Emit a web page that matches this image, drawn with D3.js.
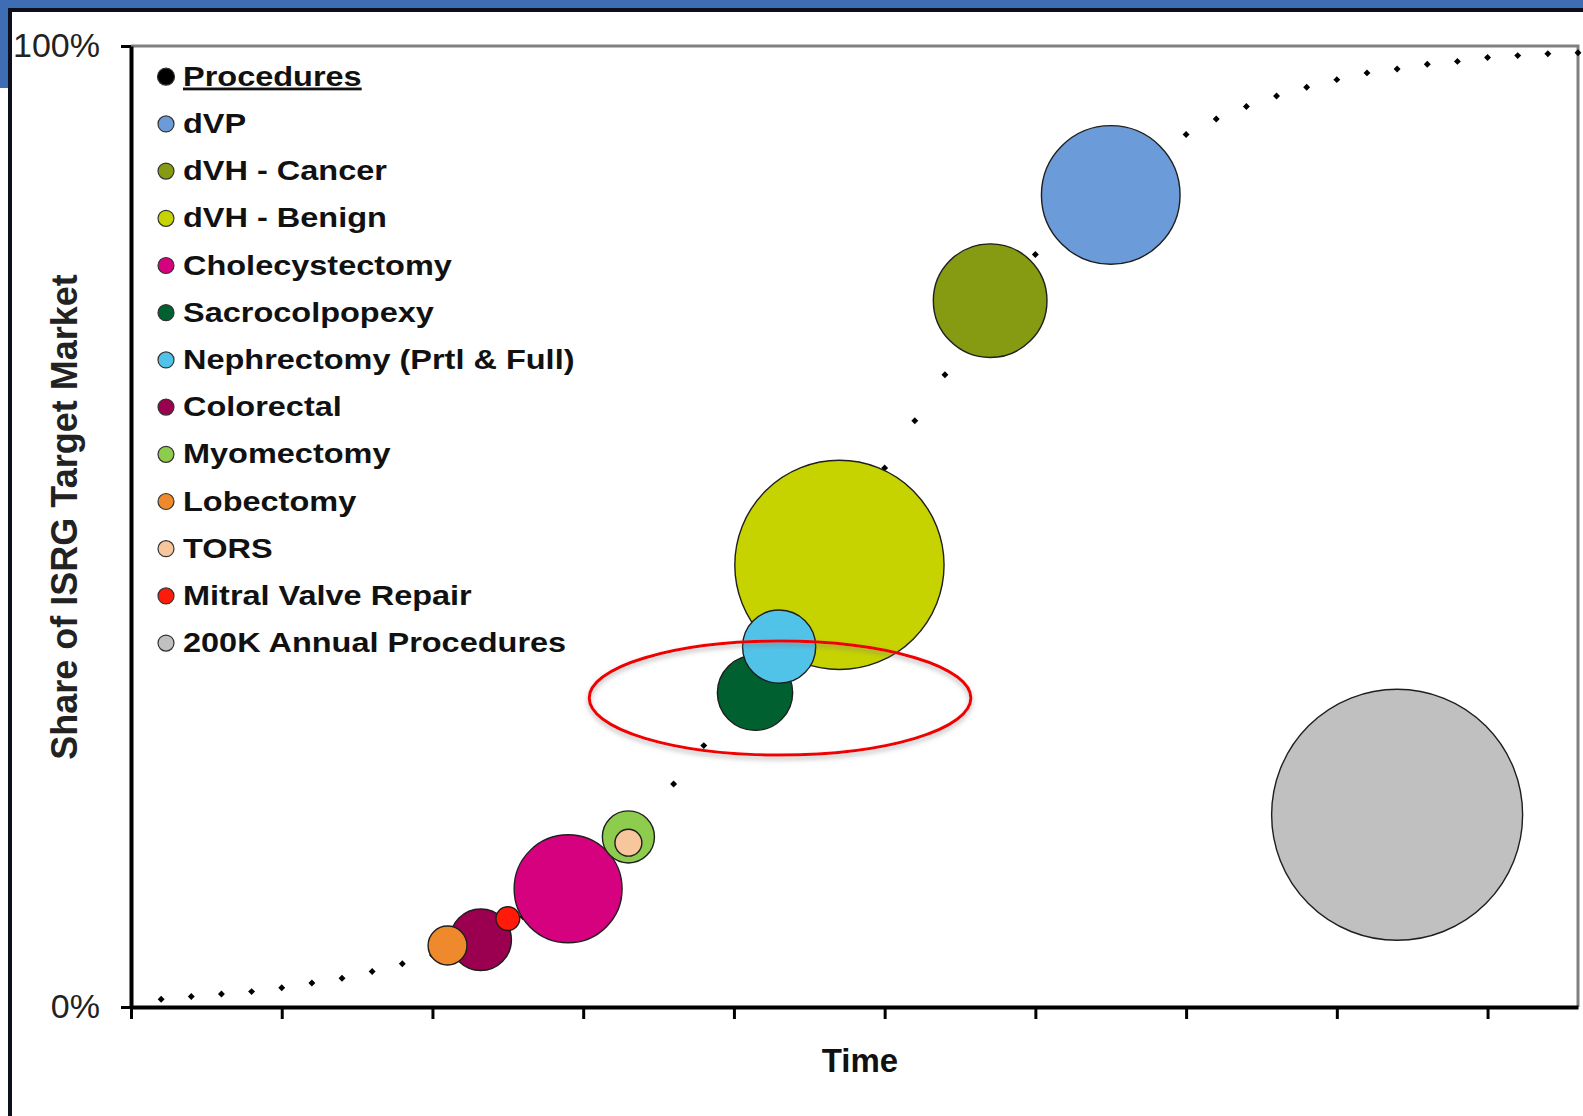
<!DOCTYPE html>
<html>
<head>
<meta charset="utf-8">
<script src="https://cdn.jsdelivr.net/npm/d3@7"></script>
<style>
  html, body { margin: 0; padding: 0; background: #ffffff; }
  svg { display: block; }
  text { font-family: "Liberation Sans", Arial, sans-serif; }
</style>
</head>
<body>
<svg id="chart" width="1583" height="1116"></svg>
<script>
// Adoption curve: share of the target market reached at each time step
const timeSteps = [1, 2, 3, 4, 5, 6, 7, 8, 9, 10, 11, 12, 13, 14, 15, 16,
  17, 18, 19, 20, 21, 22, 23, 24, 25, 26, 27, 28, 29, 30, 31, 32,
  33, 34, 35, 36, 37, 38, 39, 40, 41, 42, 43, 44, 45, 46, 47, 48];
const adoptionShare = [
  0.008, 0.011, 0.0135, 0.016, 0.020, 0.025, 0.030, 0.037, 0.045,
  0.054, 0.065, 0.078, 0.094, 0.113, 0.135, 0.162, 0.195,
  0.232, 0.272, 0.315, 0.362, 0.410, 0.460, 0.512,
  0.561, 0.610, 0.658, 0.702, 0.743, 0.783,
  0.814, 0.842, 0.867, 0.889, 0.908,
  0.924, 0.937, 0.948, 0.957, 0.965, 0.972, 0.976, 0.981, 0.984,
  0.988, 0.990, 0.992, 0.993
];

// Procedures: position on the curve and annual volume (thousands)
const procedureNames = ["dVP", "dVH - Cancer", "dVH - Benign", "Cholecystectomy",
  "Sacrocolpopexy", "Nephrectomy (Prtl & Full)", "Colorectal", "Myomectomy",
  "Lobectomy", "TORS", "Mitral Valve Repair", "200K Annual Procedures"];
const procedureTime = [32.5, 28.5, 23.5, 14.5, 20.7, 21.5, 11.6, 16.5, 10.5, 16.5, 12.5, 42];
const procedureShare = [0.845, 0.735, 0.46, 0.123, 0.327, 0.375, 0.07, 0.177, 0.064, 0.171, 0.092, 0.2];
const procedureVolumeK = [61, 41, 139, 37, 18, 17, 12, 8.6, 4.8, 2.3, 1.8, 200];

// Axis ticks
const timeTicks = [0, 5, 10, 15, 20, 25, 30, 35, 40, 45];
const shareTicks = [0, 1];

// Highlighted cluster (time, share, half-width in time, half-height in share)
const highlight = { time: 21.53, share: 0.3215, halfTime: 6.33, halfShare: 0.0593 };

// Series colours
const procedureColors = ["#6b9bd8", "#869a12", "#c6d300", "#d6017f", "#00602f",
  "#52c3e8", "#9b0050", "#8dcc4c", "#ee8a2b", "#f8c69c", "#ff1a0a", "#c0c0c0"];

const svg = d3.select("#chart");

// Slide frame
svg.append("rect").attr("x", 0).attr("y", 0).attr("width", 1583).attr("height", 9).attr("fill", "#3e6db4");
svg.append("rect").attr("x", 0).attr("y", 0).attr("width", 10).attr("height", 88).attr("fill", "#3e6db4");
svg.append("rect").attr("x", 9).attr("y", 8).attr("width", 1574).attr("height", 4).attr("fill", "#0b0f1e");
svg.append("rect").attr("x", 8).attr("y", 8).attr("width", 4).attr("height", 1108).attr("fill", "#0b0f1e");

const x = d3.scaleLinear().domain([0, 48]).range([131, 1578]);
const y = d3.scaleLinear().domain([0, 1]).range([1007, 46]);
const r = d3.scaleSqrt().domain([0, 200]).range([0, 125.5]);

// Plot frame (top and right)
svg.append("path")
  .attr("d", `M${x(0)},${y(1)}H${x(48)}V${y(0)}`)
  .attr("fill", "none").attr("stroke", "#808080").attr("stroke-width", 3);

// Curve markers
const diamond = d3.symbol().type(d3.symbolSquare).size(24);
svg.append("g").selectAll("path")
  .data(timeSteps.map((t, i) => ({ t, s: adoptionShare[i] })))
  .join("path")
  .attr("d", diamond)
  .attr("transform", d => `translate(${x(d.t)},${y(d.s)}) rotate(45)`)
  .attr("fill", "#000");

// Bubbles
const bubbles = procedureNames.map((name, i) => ({
  name, t: procedureTime[i], s: procedureShare[i], v: procedureVolumeK[i], c: procedureColors[i]
}));
svg.append("g").selectAll("circle")
  .data(bubbles)
  .join("circle")
  .attr("cx", d => x(d.t))
  .attr("cy", d => y(d.s))
  .attr("r", d => r(d.v))
  .attr("fill", d => d.c)
  .attr("stroke", "#1e1e1e")
  .attr("stroke-width", 1.4);

// Axes
const xAxis = svg.append("g")
  .attr("transform", `translate(0,${y(0)})`)
  .call(d3.axisBottom(x).tickValues(timeTicks).tickSize(12).tickSizeOuter(0).tickFormat(""));
const yAxis = svg.append("g")
  .attr("transform", `translate(${x(0)},0)`)
  .call(d3.axisLeft(y).tickValues(shareTicks).tickSize(10).tickSizeOuter(0)
    .tickPadding(21).tickFormat(d3.format(".0%")));
[xAxis, yAxis].forEach(g => {
  g.select(".domain").attr("stroke", "#000").attr("stroke-width", 4);
  g.selectAll(".tick line").attr("stroke", "#000").attr("stroke-width", 3);
});
yAxis.selectAll(".tick text")
  .attr("font-size", 34).attr("fill", "#222")
  .style("font-family", "'Liberation Sans', Arial, sans-serif");

// Highlight ellipse around the pelvic cluster
const defs = svg.append("defs");
const shadow = defs.append("filter").attr("id", "soft-shadow")
  .attr("x", "-10%").attr("y", "-20%").attr("width", "120%").attr("height", "150%");
shadow.append("feDropShadow").attr("dx", 0).attr("dy", 3).attr("stdDeviation", 2.5)
  .attr("flood-color", "#777").attr("flood-opacity", 0.55);
svg.append("ellipse")
  .attr("cx", x(highlight.time))
  .attr("cy", y(highlight.share))
  .attr("rx", x(highlight.halfTime) - x(0))
  .attr("ry", y(0) - y(highlight.halfShare))
  .attr("fill", "none")
  .attr("stroke", "#f00000")
  .attr("stroke-width", 3)
  .attr("filter", "url(#soft-shadow)");

// Axis titles
svg.append("text")
  .attr("transform", "translate(77,517) rotate(-90)")
  .attr("text-anchor", "middle")
  .attr("font-size", 36).attr("font-weight", "bold").attr("fill", "#222")
  .text("Share of ISRG Target Market");
svg.append("text")
  .attr("x", 860).attr("y", 1072)
  .attr("text-anchor", "middle")
  .attr("font-size", 33).attr("font-weight", "bold").attr("fill", "#111")
  .text("Time");

// Legend
const legendItems = [{ name: "Procedures", c: "#000", underline: true }]
  .concat(bubbles.map(b => ({ name: b.name, c: b.c, underline: false })));
const legend = svg.append("g");
const rows = legend.selectAll("g")
  .data(legendItems)
  .join("g")
  .attr("transform", (d, i) => `translate(0,${76.7 + i * 47.2})`);
rows.append("circle")
  .attr("cx", 166).attr("cy", 0).attr("r", d => d.underline ? 8.5 : 8)
  .attr("fill", d => d.c)
  .attr("stroke", "#333").attr("stroke-width", 1.2);
rows.append("text")
  .attr("transform", "translate(183,9) scale(1.16,1)")
  .attr("font-size", 28).attr("font-weight", "bold").attr("fill", "#111")
  .style("text-decoration", d => d.underline ? "underline" : "none")
  .text(d => d.name);
</script>
</body>
</html>
